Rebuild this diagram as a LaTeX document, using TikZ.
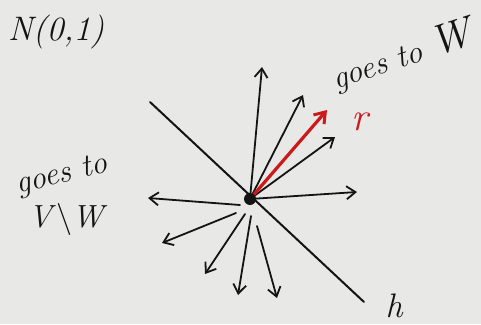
\documentclass[tikz,border=0pt]{standalone}
\usepackage{fontspec}
\usetikzlibrary{arrows.meta}
\definecolor{bg}{RGB}{232,232,230}
\definecolor{pen}{RGB}{20,20,20}
\definecolor{redpen}{RGB}{205,25,25}
\begin{document}
\begin{tikzpicture}[x=1pt,y=-1pt,
  vec/.style={draw=pen,line width=1.8pt,line cap=round,-{Straight Barb[length=9pt,width=13pt,line width=1.8pt]}},
  redvec/.style={draw=redpen,line width=3.2pt,line cap=round,-{Straight Barb[length=10pt,width=14pt,line width=3pt]}},
  hand/.style={font=\itshape\fontsize{34}{34}\selectfont,text=pen,inner sep=0pt}]
\fill[bg] (0,0) rectangle (481,324);
\useasboundingbox (0,0) rectangle (481,324);
% hyperplane h
\coordinate (h1) at (150,102);
\coordinate (h2) at (364,302);
\draw[pen,line width=2pt,line cap=round] (h1) -- (h2);
\node[hand,anchor=south] (hl) at (394,318) {h};
% center
\coordinate (c) at (250,199);
% ends
\coordinate (e1) at (262,67);
\coordinate (e2) at (303,95);
\coordinate (er) at (327,110);
\coordinate (e3) at (335,137);
\coordinate (e4) at (357,192);
\coordinate (s5) at (240,205);
\coordinate (e5) at (148,198);
\coordinate (s6) at (236,213);
\coordinate (e6) at (162,243);
\coordinate (s7) at (245,214);
\coordinate (e7) at (205,274);
\coordinate (s8) at (251,216);
\coordinate (e8) at (238,295);
\coordinate (s9) at (257,226);
\coordinate (e9) at (277,298);
\draw[vec] (c) -- (e1);
\draw[vec] (c) -- (e2);
\draw[vec] (c) -- (e3);
\draw[vec] (c) -- (e4);
\draw[vec] (s5) -- (e5);
\draw[vec] (s6) -- (e6);
\draw[vec] (s7) -- (e7);
\draw[vec] (s8) -- (e8);
\draw[vec] (s9) -- (e9);
\draw[redvec] (c) -- (er);
\fill[pen] (c) circle (6pt);
% labels
\node[hand,text=redpen,font=\itshape\fontsize{40}{40}\selectfont] (rl) at (360,122) {r};
\node[hand,anchor=west] (nl) at (8,32) {N(0,1)};
\node[hand,rotate=18,font=\itshape\fontsize{32}{32}\selectfont] (wl) at (402,56) {goes to {\fontsize{42}{42}\selectfont W}};
\node[hand,rotate=14,font=\itshape\fontsize{32}{32}\selectfont] (vl1) at (62,176) {goes to};
\node[hand,font=\itshape\fontsize{32}{32}\selectfont] (vl2) at (66,219) {V\textup{\textbackslash}W};
\end{tikzpicture}
\end{document}
